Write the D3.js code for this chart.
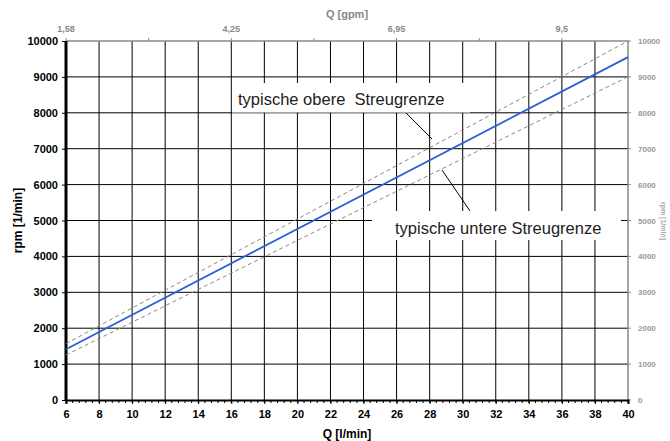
<!DOCTYPE html>
<html><head><meta charset="utf-8">
<script src="https://cdn.jsdelivr.net/npm/d3@7"></script>
<style>body{margin:0;background:#fff}svg{display:block}text{font-family:"Liberation Sans",Arial,sans-serif}</style>
</head><body>
<script>
// Data
const flowLpm = [6, 40];
const rpmTypical = [1415, 9550];
const rpmUpper = [1570, 10000];
const rpmLower = [1255, 9005];
const xTicks = [6, 8, 10, 12, 14, 16, 18, 20, 22, 24, 26, 28, 30, 32, 34, 36, 38, 40];
const yTicks = [0, 1000, 2000, 3000, 4000, 5000, 6000, 7000, 8000, 9000, 10000];
const gpmTickPos = [6, 11, 16, 21, 26, 31, 36];
const gpmLabelPos = [6, 16, 26, 36];
const gpmLabels = ["1,58", "4,25", "6,95", "9,5"];
const labelUpper = "typische obere  Streugrenze";
const labelLower = "typische untere Streugrenze";

const W = 670, H = 441;
const m = {left: 66, right: 42, top: 41, bottom: 41};
const svg = d3.select("body").append("svg").attr("width", W).attr("height", H);
const x = d3.scaleLinear().domain([6, 40]).range([m.left, W - m.right]);
const y = d3.scaleLinear().domain([0, 10000]).range([H - m.bottom, m.top]);
const x0 = x(6), x1 = x(40), y0 = y(0), y1 = y(10000);

// grid
const g = svg.append("g");
g.selectAll(".vg").data(xTicks.slice(1, -1)).join("line")
  .attr("x1", d => x(d)).attr("x2", d => x(d)).attr("y1", y1).attr("y2", y0)
  .attr("stroke", "#000").attr("stroke-width", 1);
g.selectAll(".hg").data(yTicks.slice(1, -1)).join("line")
  .attr("x1", x0).attr("x2", x1).attr("y1", d => y(d)).attr("y2", d => y(d))
  .attr("stroke", "#000").attr("stroke-width", 1);

// label boxes (mask grid)
svg.append("rect").attr("x", 232).attr("y", 83).attr("width", 238).attr("height", 29.5).attr("fill", "#fff");
svg.append("rect").attr("x", 372).attr("y", 211).attr("width", 249).attr("height", 29).attr("fill", "#fff");

// top axis (gpm)
svg.append("line").attr("x1", x0).attr("x2", x1).attr("y1", y1).attr("y2", y1).attr("stroke", "#888").attr("stroke-width", 1.5);
svg.selectAll(".tt").data(gpmTickPos).join("line")
  .attr("x1", d => x(d)).attr("x2", d => x(d)).attr("y1", y1).attr("y2", y1 - 3).attr("stroke", "#888");
svg.selectAll(".tl").data(gpmLabelPos).join("text")
  .attr("x", d => x(d)).attr("y", 32).attr("text-anchor", "middle")
  .attr("font-size", 9).attr("font-weight", "bold").attr("fill", "#888")
  .text((d, i) => gpmLabels[i]);
svg.append("text").attr("x", 347).attr("y", 18).attr("text-anchor", "middle")
  .attr("font-size", 11).attr("font-weight", "bold").attr("fill", "#888").text("Q [gpm]");

// right axis
svg.append("line").attr("x1", x1).attr("x2", x1).attr("y1", y1).attr("y2", y0).attr("stroke", "#888").attr("stroke-width", 1.5);
svg.selectAll(".rt").data(yTicks).join("line")
  .attr("x1", x1).attr("x2", x1 + 3).attr("y1", d => y(d)).attr("y2", d => y(d)).attr("stroke", "#888");
svg.selectAll(".rl").data(yTicks).join("text")
  .attr("x", 638).attr("y", d => y(d) + 3).attr("font-size", 8).attr("font-weight", "bold").attr("fill", "#999")
  .text(d => d);
svg.append("text").attr("transform", `translate(661,221) rotate(90)`).attr("text-anchor", "middle")
  .attr("font-size", 7).attr("font-weight", "bold").attr("fill", "#aaa").text("rpm [1/min]");

// bottom axis
const xa = svg.append("g").attr("transform", `translate(0,${y0})`)
  .call(d3.axisBottom(x).tickValues(xTicks).tickSize(4).tickPadding(6).tickFormat(d3.format("d")));
xa.select(".domain").attr("stroke", "#000").attr("stroke-width", 2);
xa.selectAll("text").attr("font-size", 11).attr("font-weight", "bold").attr("fill", "#000").style("font-family", "Liberation Sans, Arial");
const minor = d3.range(6, 40.001, 0.4).map(v => Math.round(v * 10) / 10);
svg.selectAll(".mt").data(minor).join("line")
  .attr("x1", d => x(d)).attr("x2", d => x(d)).attr("y1", y0).attr("y2", y0 + 3).attr("stroke", "#000");
svg.append("text").attr("x", 347).attr("y", 438).attr("text-anchor", "middle")
  .attr("font-size", 12).attr("font-weight", "bold").text("Q [l/min]");

// left axis
const ya = svg.append("g").attr("transform", `translate(${x0},0)`)
  .call(d3.axisLeft(y).tickValues(yTicks).tickSize(4).tickPadding(4).tickFormat(d3.format("d")));
ya.select(".domain").remove();
ya.selectAll("text").attr("font-size", 11).attr("font-weight", "bold").attr("fill", "#000").style("font-family", "Liberation Sans, Arial");
svg.append("line").attr("x1", x0).attr("x2", x0).attr("y1", y1).attr("y2", y0 + 1).attr("stroke", "#000").attr("stroke-width", 3);
svg.append("text").attr("transform", `translate(22,${(y0 + y1) / 2}) rotate(-90)`).attr("text-anchor", "middle")
  .attr("font-size", 12).attr("font-weight", "bold").text("rpm [1/min]");

// lines
const line = d3.line().x((d, i) => x(flowLpm[i])).y(d => y(d));
svg.append("path").datum(rpmUpper).attr("d", line).attr("fill", "none").attr("stroke", "#888").attr("stroke-width", 1).attr("stroke-dasharray", "4,3");
svg.append("path").datum(rpmLower).attr("d", line).attr("fill", "none").attr("stroke", "#888").attr("stroke-width", 1).attr("stroke-dasharray", "4,3");
svg.append("path").datum(rpmTypical).attr("d", line).attr("fill", "none").attr("stroke", "#2a5fd6").attr("stroke-width", 1.8);

// annotations
svg.append("text").attr("x", 238).attr("y", 105).attr("font-size", 16.5).attr("fill", "#222")
  .style("white-space", "pre").text(labelUpper);
svg.append("line").attr("x1", 406).attr("y1", 113).attr("x2", 432).attr("y2", 139).attr("stroke", "#000");
svg.append("text").attr("x", 395).attr("y", 234).attr("font-size", 16.5).attr("fill", "#222").text(labelLower);
svg.append("line").attr("x1", 442).attr("y1", 170).attr("x2", 470).attr("y2", 211).attr("stroke", "#000");
</script>
</body></html>
